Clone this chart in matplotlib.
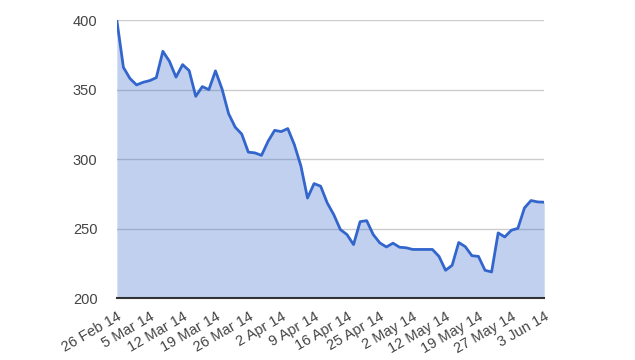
import matplotlib
matplotlib.use("Agg")
import matplotlib.pyplot as plt
import numpy as np

# daily closing values, one per trading day, 26 Feb 14 - 3 Jun 14
values = [400, 366, 358, 353.4, 355.3, 356.5, 358.6, 377.6, 370.4, 359,
          368, 363.7, 345.2, 352.2, 350, 363.5, 350.5, 332.7, 323, 318,
          305, 304.5, 302.7, 312.8, 320.7, 319.8, 322, 310.4, 295, 272,
          282.4, 280.5, 268.5, 260, 249.3, 245.7, 238.5, 255, 255.7, 245.7,
          239.7, 236.8, 239.5, 236.6, 236.2, 235, 235, 235, 235, 230,
          220, 223.6, 240, 237, 230.5, 230, 220, 218.8, 246.9, 244,
          248.8, 250.2, 264.9, 270.2, 269.2, 269]

tick_labels = ['26 Feb 14', '5 Mar 14', '12 Mar 14', '19 Mar 14', '26 Mar 14',
               '2 Apr 14', '9 Apr 14', '16 Apr 14', '25 Apr 14', '2 May 14',
               '12 May 14', '19 May 14', '27 May 14', '3 Jun 14']
tick_step = 5

plt.rcParams['font.family'] = ['Liberation Sans', 'DejaVu Sans']

fig = plt.figure(figsize=(6.35, 3.6), dpi=100)
ax = fig.add_axes([0.184, 0.172, 0.673, 0.772])

x = np.arange(len(values))
ax.fill_between(x, 200, values, color='#3366cc', alpha=0.3, linewidth=0)
ax.plot(x, values, color='#3366cc', linewidth=2)

ax.set_xlim(0, len(values) - 1)
ax.set_ylim(200, 400)
ax.set_yticks([200, 250, 300, 350, 400])
ax.set_xticks(x[::tick_step])
ax.set_xticklabels(tick_labels, rotation=30, ha='right', va='top',
                   rotation_mode='anchor')

ax.grid(axis='y', color='#cccccc', linewidth=1)
ax.set_axisbelow(True)
for s in ['left', 'right', 'top']:
    ax.spines[s].set_visible(False)
ax.spines['bottom'].set_color('#333333')
ax.spines['bottom'].set_linewidth(1.5)
ax.spines['bottom'].set_zorder(5)
ax.tick_params(axis='both', length=0, labelsize=10.5, colors='#444444')
ax.tick_params(axis='y', pad=14)
ax.tick_params(axis='x', pad=8)

fig.savefig('out.png', dpi=100)
